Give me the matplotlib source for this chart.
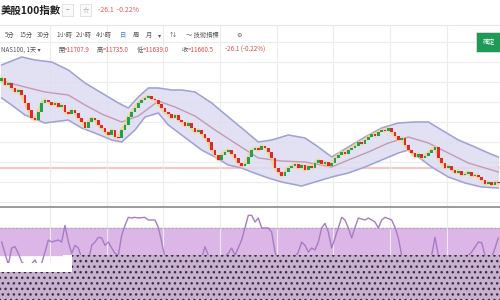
import matplotlib
matplotlib.use('Agg')
import matplotlib.pyplot as plt
import numpy as np

plt.rcParams['font.family'] = ['Noto Sans CJK TC', 'DejaVu Sans']

# 收盤價 (日K)
close = [12710, 12640, 12660, 12610, 12570, 12590, 12540, 12460, 12390, 12310,
         12290, 12370, 12460, 12490, 12470, 12440, 12460, 12420, 12440, 12370,
         12350, 12390, 12360, 12310, 12270, 12210, 12270, 12310, 12290, 12240,
         12210, 12170, 12140, 12190, 12120, 12110, 12190, 12240, 12320, 12370,
         12410, 12460, 12490, 12510, 12530, 12500, 12490, 12450, 12410, 12370,
         12350, 12310, 12340, 12290, 12270, 12230, 12260, 12210, 12170, 12190,
         12150, 12110, 12070, 11990, 11940, 11890, 11940, 11970, 11990, 11950,
         11910, 11860, 11830, 11850, 11920, 11990, 12010, 11990, 12030, 12010,
         11970, 11910, 11810, 11770, 11730, 11770, 11810, 11830, 11850, 11810,
         11840, 11790, 11830, 11810, 11860, 11890, 11850, 11870, 11830, 11860,
         11910, 11940, 11970, 11950, 11990, 12010, 12030, 12070, 12050, 12090,
         12120, 12150, 12130, 12170, 12190, 12180, 12210, 12170, 12130, 12090,
         12110, 12040, 11990, 11960, 11920, 11950, 11910, 11930, 11960, 11990,
         12020, 11910, 11860, 11810, 11830, 11790, 11760, 11780, 11740, 11750,
         11770, 11730, 11740, 11720, 11690, 11650, 11670, 11640, 11670, 11660.5]
open_ = [12680] + close[:-1]

# 布林通道
up_idx = [0, 6, 10, 15, 20, 25, 30, 35, 38, 41, 44, 47, 51, 54, 58, 63, 68, 72, 77,
          81, 86, 91, 95, 99, 104, 109, 114, 119, 124, 128, 132, 137, 142, 146, 149]
up_val = [12840, 12920, 12890, 12870, 12790, 12660, 12560, 12460, 12410, 12520,
          12610, 12610, 12590, 12590, 12570, 12460, 12320, 12210, 12070, 12090,
          12140, 12110, 12020, 11920, 12020, 12120, 12210, 12260, 12270, 12270,
          12190, 12090, 12020, 11960, 11920]
lo_idx = [0, 3, 7, 13, 20, 24, 28, 33, 36, 40, 43, 47, 50, 52, 56, 60, 64, 68, 72,
          75, 80, 84, 90, 94, 99, 104, 109, 114, 119, 122, 125, 129, 134, 139, 144, 149]
lo_val = [12510, 12440, 12340, 12260, 12290, 12210, 12160, 12090, 12070, 12190,
          12320, 12360, 12240, 12190, 12090, 11990, 11920, 11840, 11810, 11770,
          11710, 11670, 11630, 11670, 11720, 11760, 11820, 11890, 11960, 11990,
          11920, 11820, 11720, 11660, 11620, 11610]
mid_idx = [0, 7, 13, 20, 25, 30, 36, 41, 47, 52, 58, 64, 70, 77, 84, 91, 99, 104,
           110, 116, 122, 128, 134, 140, 149]
mid_val = [12680, 12620, 12570, 12540, 12440, 12350, 12270, 12330, 12480, 12420,
           12330, 12190, 12060, 11910, 11880, 11870, 11820, 11890, 11970, 12060,
           12120, 12060, 11960, 11860, 11770]

# RSI
rsi_idx = [0, 2, 3, 4, 5, 6, 8, 10, 11, 12, 13, 14, 15, 17, 18, 19, 20, 21, 22, 23,
           24, 26, 27, 28, 29, 30, 31, 32, 33, 34, 35, 36, 37, 38, 39, 40, 41, 43,
           44, 46, 47, 48, 49, 52, 56, 60, 61, 62, 65, 68, 69, 70, 72, 74, 75, 76,
           77, 78, 80, 81, 82, 83, 86, 89, 90, 91, 92, 93, 94, 95, 96, 97, 98, 99,
           100, 101, 102, 103, 104, 105, 106, 107, 109, 110, 112, 113, 114, 115,
           117, 118, 119, 120, 123, 127, 129, 130, 131, 133, 138, 141, 143, 144,
           145, 147, 149]
rsi_val = [49, 15, 40, 42, 32, 19, 11, 22, 11, 17, 34, 52, 49, 52, 49, 74, 49, 32,
           44, 40, 25, 19, 44, 49, 56, 55, 44, 49, 40, 32, 29, 59, 74, 86, 85, 86,
           85, 86, 82, 82, 71, 49, 25, 14, 19, 25, 42, 29, 19, 32, 40, 29, 52, 89,
           89, 79, 85, 70, 70, 64, 34, 19, 10, 34, 49, 44, 34, 40, 37, 49, 70, 77,
           64, 40, 55, 70, 86, 82, 70, 55, 71, 85, 82, 85, 79, 70, 82, 86, 82, 71,
           55, 29, 14, 19, 29, 56, 29, 14, 19, 34, 49, 48, 29, 25, 55]

n = len(close)
x = np.arange(n)

fig = plt.figure(figsize=(5, 3), dpi=100)
fig.patch.set_facecolor('white')

# 主圖
ax = fig.add_axes([0, 94 / 300, 1, 181 / 300])
ax.set_xlim(-0.5, n - 0.5)
ax.set_ylim(11430, 13240)
ax.set_xticks(np.arange(14.5, n, 17))
ax.set_yticks(np.arange(11470, 13240, 200))
ax.grid(True, color='#ececec', lw=0.8)
ax.tick_params(length=0, labelbottom=False, labelleft=False)
for s in ax.spines.values():
    s.set_visible(False)
ax.axhline(11810, color='#f2c9c9', lw=1.6, zorder=1)

band_x = np.r_[up_idx, lo_idx[::-1]]
band_y = np.r_[up_val, lo_val[::-1]]
ax.fill(band_x, band_y, color='#dcdcf1', alpha=0.85, zorder=2)
ax.plot(up_idx, up_val, color='#9fa2d3', lw=1.1, zorder=3)
ax.plot(lo_idx, lo_val, color='#9fa2d3', lw=1.1, zorder=3)
ax.plot(mid_idx, mid_val, color='#c49ab0', lw=1.0, zorder=3)
ax.plot(x, close, color='#f7cc80', lw=2.4, alpha=0.75, zorder=4)

o = np.array(open_)
c = np.array(close)
h = c - o
h = np.where(np.abs(h) < 10, np.where(h >= 0, 10, -10), h)
cols = np.where(c >= o, '#1fa34a', '#e3262a')
ax.bar(x, h, bottom=o, width=0.88, color=cols, zorder=5)

# RSI 副圖
ax2 = fig.add_axes([0, 0, 1, 92 / 300])
ax2.set_xlim(-0.5, n - 0.5)
ax2.set_ylim(-38, 100)
ax2.set_xticks(np.arange(14.5, n, 17))
ax2.set_yticks([])
ax2.grid(True, axis='x', color='#ececec', lw=0.8)
ax2.tick_params(length=0, labelbottom=False, labelleft=False)
for s in ax2.spines.values():
    s.set_visible(False)
ax2.axhspan(30, 70, color='#dcb6e6', zorder=1)
ax2.axhline(70, color='#b0a0b8', lw=0.8, ls=(0, (2, 1.5)), zorder=2)
ax2.plot(rsi_idx, rsi_val, color='#a77cc4', lw=1.0, zorder=3)

# 版面裝飾 (像素座標)
ov = fig.add_axes([0, 0, 1, 1], facecolor='none')
ov.set_xlim(0, 500)
ov.set_ylim(300, 0)
ov.axis('off')
ov.add_patch(plt.Rectangle((72, 255), 428, 45, facecolor='#c8b1cf', edgecolor='#3a3040',
                           hatch='...', lw=0, zorder=5))
ov.add_patch(plt.Rectangle((0, 272), 72, 28, facecolor='#c8b1cf', edgecolor='#3a3040',
                           hatch='...', lw=0, zorder=5))
ov.add_patch(plt.Rectangle((0, 263), 63, 9, facecolor='white', lw=0, zorder=6))
ov.add_patch(plt.Rectangle((63, 255), 9, 17, facecolor='white', lw=0, zorder=6))
ov.plot([0, 500], [207, 207], color='#9a9a9a', lw=1.4, zorder=6)
ov.plot([0, 500], [25, 25], color='#e6e6e6', lw=0.8, zorder=6)
ov.add_patch(plt.Rectangle((0, 0), 500, 24.5, facecolor='white', lw=0, zorder=4))

ov.text(1, 11, '美股100指數', fontsize=7.5, fontweight='bold', color='#222',
        va='center', ha='left', zorder=7)
for bx, sym in [(62, '−'), (80, '☆')]:
    ov.add_patch(plt.Rectangle((bx, 4), 11, 12, facecolor='#fafafa', edgecolor='#dddddd',
                               lw=0.6, zorder=7))
    ov.text(bx + 5.5, 10, sym, fontsize=4.5, color='#999', ha='center', va='center',
            zorder=8)
ov.text(98, 10, '-26.1  -0.22%', fontsize=5, color='#e05a5a', va='center', zorder=7)

tools = [('5分', 5), ('15分', 19), ('30分', 37), ('1小時', 56), ('2小時', 76),
         ('4小時', 96), ('日', 120), ('周', 133), ('月', 146), ('▾', 158),
         ('⇅', 170), ('〜 技術指標', 186), ('⚙', 236)]
for t, tx in tools:
    ov.text(tx, 35, t, fontsize=4.5, color='#4a7fd0' if t == '日' else '#555',
            va='center', zorder=7)

ov.text(1, 50, 'NAS100, 1天 ▾', fontsize=4.5, color='#555', va='center', zorder=7)
ohlc = [('開', '=11707.9', 58), ('高', '=11735.0', 97), ('低', '=11639.0', 137),
        ('收', '=11660.5', 182)]
for lab, val, tx in ohlc:
    ov.text(tx, 50, lab, fontsize=4.5, color='#555', va='center', zorder=7)
    ov.text(tx + 6, 50, val, fontsize=4.5, color='#e04848', va='center', zorder=7)
ov.text(225, 50, '-26.1 (-0.22%)', fontsize=4.5, color='#e04848', va='center', zorder=7)

ov.add_patch(plt.Rectangle((476, 32), 26, 20, facecolor='#1e9a56', edgecolor='#e0e0e0',
                           lw=0.6, zorder=7))
ov.text(483, 42, '確定', fontsize=4.5, color='white', va='center', zorder=8)

fig.savefig('out.png', dpi=100)
